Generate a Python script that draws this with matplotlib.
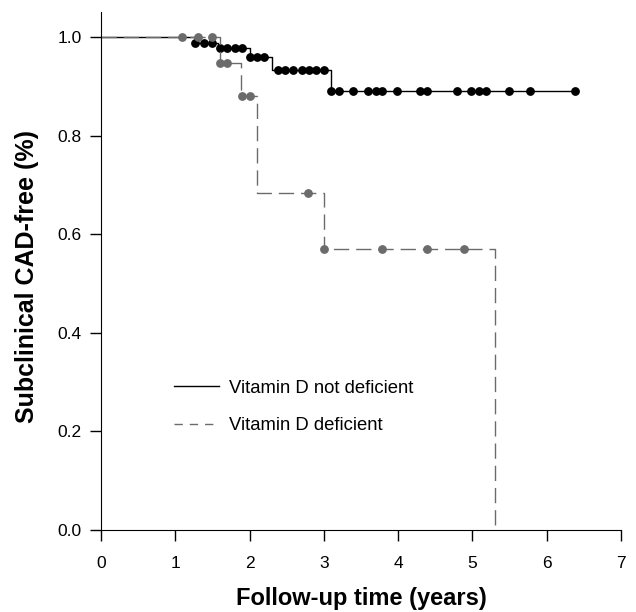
import numpy as np
import matplotlib
matplotlib.use('Agg')
import matplotlib.pyplot as plt

plt.rcParams['font.family'] = ['Liberation Sans', 'DejaVu Sans']

# Kaplan-Meier steps (event times and survival after each event)
tNot = [0, 1.26, 1.57, 2.0, 2.3, 3.1, 6.4]
sNot = [1.0, 0.988, 0.978, 0.960, 0.933, 0.891, 0.891]
tDef = [0, 1.6, 1.88, 2.1, 3.0, 5.3]
sDef = [1.0, 0.948, 0.88, 0.684, 0.57, 0.0]

# censored times
cNot = [1.27, 1.39, 1.5, 1.6, 1.7, 1.8, 1.9, 2.0, 2.1, 2.2,
        2.38, 2.48, 2.59, 2.7, 2.8, 2.9, 3.0,
        3.1, 3.2, 3.39, 3.59, 3.7, 3.79, 3.99, 4.29, 4.39,
        4.79, 4.98, 5.09, 5.18, 5.49, 5.78, 6.38]
cDef = [1.09, 1.3, 1.49, 1.6, 1.7, 1.9, 2.0, 2.79, 3.0, 3.79, 4.39, 4.89]

labels = ['Vitamin D not deficient', 'Vitamin D deficient']
gray = '#6b6b6b'


def level(t, s, c):
    idx = np.searchsorted(t, c, side='right') - 1
    return np.array(s)[idx]


fig = plt.figure(figsize=(6.36, 6.12), dpi=100)
ax = fig.add_axes([0.159, 0.134, 0.817, 0.846])

ax.step(tNot, sNot, where='post', color='black', lw=1.0, label=labels[0])
ax.plot(cNot, level(tNot, sNot, cNot), 'o', color='black', ms=5.3, ls='none')
ax.step(tDef, sDef, where='post', color=gray, lw=1.0, dashes=(11, 5), label=labels[1])
ax.plot(cDef, level(tDef, sDef, cDef), 'o', color=gray, ms=5.3, ls='none')

ax.set_xlim(0, 7)
ax.set_ylim(0, 1.05)
ax.set_xticks(range(8))
ax.set_yticks([0.0, 0.2, 0.4, 0.6, 0.8, 1.0])
ax.set_yticklabels(['0.0', '0.2', '0.4', '0.6', '0.8', '1.0'])
ax.spines['top'].set_visible(False)
ax.spines['right'].set_visible(False)
ax.tick_params(direction='out', length=8, width=1, labelsize=12.5)
ax.tick_params(axis='x', pad=11)
ax.tick_params(axis='y', pad=6)

ax.set_xlabel('Follow-up time (years)', fontsize=17, fontweight='bold', labelpad=11)
ax.set_ylabel('Subclinical CAD-free (%)', fontsize=18, fontweight='bold')
ax.yaxis.set_label_coords(-0.119, 0.49)

leg = ax.legend(loc='upper left', bbox_to_anchor=(0.109, 0.322), frameon=False,
                fontsize=13.3, handlelength=2.43, handletextpad=0.54, labelspacing=1.1)
for h in leg.get_lines():
    if h.get_color() == gray:
        h.set_dashes((6, 5))

plt.savefig('out.png', dpi=100)
